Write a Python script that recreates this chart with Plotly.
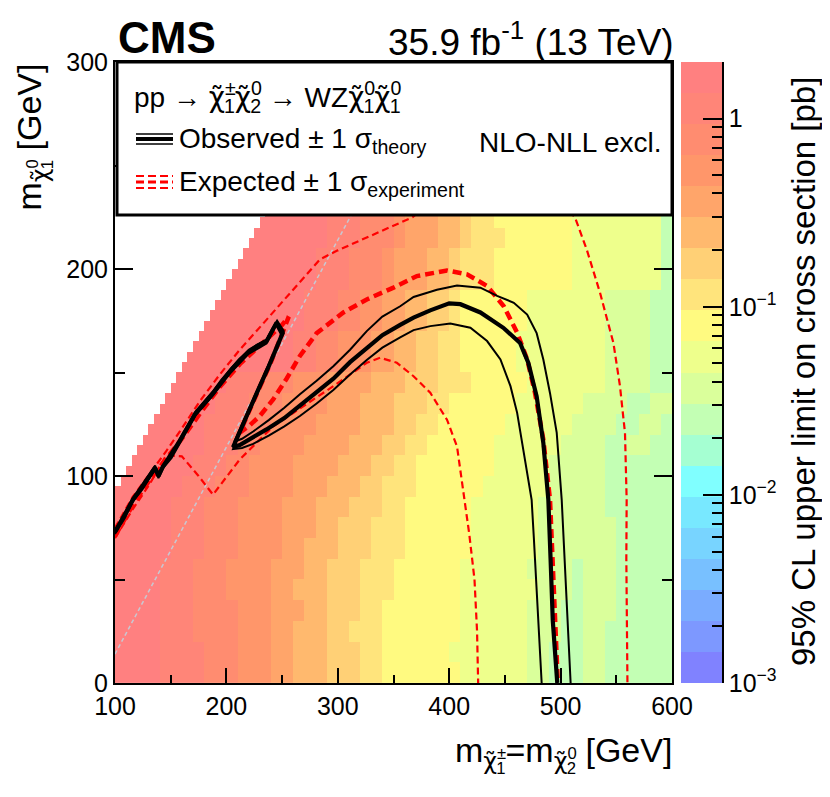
import numpy as np
import plotly.graph_objects as go

W, H = 830, 797
OFF = 8  # the page body margin shifts the figure by this many pixels
FONT = "Liberation Sans, Arial, Helvetica, DejaVu Sans, sans-serif"


def px(x):
    return (x - OFF) / W


def py(y):
    return 1 - (y - OFF) / H


# ---------------- colour palette (20 bands, highest value first) ----------------
BAND_COLORS = [
    "rgb(255,128,128)", "rgb(255,133,120)", "rgb(255,140,112)", "rgb(255,150,106)",
    "rgb(255,165,106)", "rgb(255,185,110)", "rgb(255,208,118)", "rgb(255,228,124)",
    "rgb(255,250,128)", "rgb(238,255,140)", "rgb(218,255,155)", "rgb(195,255,180)",
    "rgb(165,255,210)", "rgb(128,255,255)", "rgb(120,232,255)", "rgb(120,212,255)",
    "rgb(120,192,255)", "rgb(122,172,255)", "rgb(125,152,255)", "rgb(128,130,255)",
]
LOG_MIN = -3.0
LOG_MAX = float(np.log10(2.0))
N_BANDS = len(BAND_COLORS)
BAND_STEP = (LOG_MAX - LOG_MIN) / N_BANDS

# ---------------- cross-section limit map (colour band per 10x10 GeV cell) ----------------
X_EDGES = list(range(100, 601, 10))
Y_EDGES = list(range(0, 231, 10))
# run-length rows, bottom (y=0) to top; token "band:count", '.' = no signal point
HEAT_ROWS = [
    "0:4 1:4 2:3 3:3 4:2 5:3 6:3 7:2 8:7 9:6 a:2 b:3 a:2 b:6",
    "0:4 1:4 2:3 3:3 4:2 5:3 6:3 7:2 8:6 9:7 a:2 b:3 a:2 b:6",
    "0:4 1:3 2:4 3:3 4:2 5:3 6:2 7:3 8:7 9:6 a:3 b:2 a:2 b:6",
    "0:4 1:3 2:4 3:3 4:3 5:2 6:3 7:2 8:7 9:6 a:2 a:1 b:2 a:3 b:5",
    "0:4 1:3 2:3 3:4 4:2 5:3 6:3 7:3 8:6 9:7 a:3 b:1 a:3 b:5",
    "0:4 1:3 2:3 3:4 4:3 5:2 6:3 7:3 8:6 9:6 a:4 b:1 a:3 b:5",
    "0:5 1:3 2:3 3:4 4:2 5:3 6:3 7:3 8:6 9:6 a:4 a:3 b:5",
    "0:5 1:3 2:3 3:4 4:3 5:2 6:3 7:3 8:6 9:6 a:7 b:5",
    "0:5 1:3 2:3 3:4 4:3 5:3 6:3 7:2 8:6 9:6 a:6 b:6",
    "0:6 1:3 2:3 3:4 4:3 5:3 6:2 7:3 8:6 9:6 a:5 b:6",
    ".:1 0:6 1:3 2:2 3:4 4:4 5:3 6:2 7:2 8:7 9:5 a:5 b:6",
    ".:2 0:6 1:3 2:2 3:4 4:4 5:3 6:2 7:2 8:6 9:6 a:4 b:2 a:2 b:2",
    ".:3 0:5 1:4 2:2 3:4 4:4 5:3 6:2 7:2 8:6 9:6 a:4 b:2 a:2 b:1",
    ".:4 0:5 1:3 2:3 3:4 4:3 5:3 6:3 7:2 8:6 9:6 a:4 b:2 a:2",
    ".:5 0:5 1:3 2:3 3:3 4:4 5:3 6:3 7:3 8:5 9:7 a:4 b:2",
    ".:6 0:10 1:2 2:2 3:3 4:2 5:2 6:2 7:2 8:5 9:8 a:4 b:2",
    ".:7 0:9 1:2 2:2 3:3 4:2 5:2 6:2 7:2 8:5 9:8 a:4 b:2",
    ".:8 0:9 1:3 2:2 3:2 4:2 5:2 6:2 7:1 8:6 9:7 a:4 b:2",
    ".:9 0:8 1:3 2:2 3:2 4:2 5:2 6:2 7:1 8:6 9:7 a:4 b:2",
    ".:10 0:8 1:3 2:3 3:1 4:3 5:2 6:1 7:3 8:7 9:8 b:1",
    ".:11 0:7 1:3 2:3 3:1 4:3 5:2 6:1 7:3 8:7 9:8 b:1",
    ".:12 0:7 1:3 2:3 3:1 4:3 5:2 6:1 7:3 8:6 9:8 b:1",
    ".:13 0:6 1:3 2:3 3:1 4:3 5:2 6:1 7:2 8:7 9:8 b:1",
]
GRID_STEP = 5
EDGE_TOP = [95, 100, 105, 110, 115, 120, 125, 130, 135, 140, 145, 150, 155, 160,
            165, 170, 175, 180, 185, 190, 195, 200, 205, 210, 215, 220, 225, 230]

# ---------------- exclusion contours (GeV) ----------------
OBS_X = [100, 108, 116, 124, 131, 136, 139, 143, 150, 157, 165, 172, 180, 188, 196, 204, 212, 220, 228, 236,
         241, 245, 250.5, 246, 238, 228, 218, 210, 206, 212, 222, 236, 252, 266, 281, 296, 311, 326, 340, 356,
         368, 383, 400, 410, 428, 448.6, 463.6, 471, 478.5, 484.5, 489, 491, 493, 497]
OBS_Y = [73, 80, 88.5, 94, 100, 104, 100, 104.5, 109, 116, 124, 130, 135, 140, 146, 151, 156, 160, 163, 165,
         170, 174, 169, 163, 153, 141, 129, 119, 114, 115, 118, 122.5, 128, 134, 140, 147, 155, 162, 168, 173,
         176.5, 180, 183.4, 183, 179, 171.6, 164.3, 154.7, 138.5, 116, 88.5, 60, 30, 0]

OBS_UP_X = [100, 116, 131, 136, 139, 143, 157, 172, 188, 204, 220, 236, 241, 245.5, 251.5, 246.5, 238, 228, 218, 210,
            207, 214, 224, 238, 252, 266, 281, 296, 311, 326, 340, 356, 368, 389, 407, 428, 443, 458, 470, 478.5,
            484.5, 490.5, 496.5, 501, 503.5, 506, 509]
OBS_UP_Y = [74, 89.5, 101, 105, 101, 105.5, 117, 131, 141, 152, 161, 166, 171, 175, 170, 163.5, 154, 142, 130, 120.5,
            116.5, 118, 121.5, 127, 133, 139.5, 146, 153, 161, 170, 177, 182, 186.5, 190, 192, 191, 187, 183.7, 178, 169,
            156.3, 140, 121, 88.5, 60, 30, 0]

OBS_DN_X = [100, 116, 131, 136, 139, 143, 157, 172, 188, 204, 220, 236, 241, 244.5, 249.5, 245.5, 237, 228, 218, 210,
            206, 214, 224, 238, 252, 266, 281, 296, 311, 326, 340, 356, 368, 383, 401, 419, 434, 446, 455, 461,
            467, 474, 476, 478, 481, 483]
OBS_DN_Y = [72, 87.5, 99, 103, 99, 103.5, 115, 129, 139, 150, 159, 164, 169, 173, 168, 162.5, 152, 140, 128, 118,
            113, 113.5, 115.5, 119.5, 124, 129, 135, 141.5, 149, 156, 162, 167, 170.5, 172.4, 173.7, 171.6, 165.2, 156.3, 143.4, 130.5,
            111, 88.5, 70, 50, 25, 0]

EXP_X = [100, 116, 131, 146, 160, 176, 194, 212, 228, 242, 250, 256, 249, 240, 230, 220, 212, 220, 230, 242,
         254, 266, 281, 305, 326, 350, 371, 398, 416, 434, 449, 461, 470, 477, 484.5, 490.5, 492.5, 495, 497.5]
EXP_Y = [71, 86, 98, 108, 118, 130, 143, 154, 162, 169, 173, 177, 167, 155, 143, 131, 121, 124, 129, 137,
         147, 158, 169, 179, 185.3, 191, 196.6, 199.3, 197.4, 191.8, 182, 169.2, 156.3, 140.2, 117.6, 88.5, 60, 30, 0]

EXP_UP_X = [100, 116, 131, 146, 160, 176, 194, 212, 227, 242, 260, 272, 284, 300, 330, 367, 400, 450, 490, 513,
            523.4, 535.4, 547.4, 553.3, 557.8, 559.3, 559, 559.5, 560]
EXP_UP_Y = [75, 90, 101, 112, 123, 136, 149, 161, 170, 179, 190, 197, 204.7, 209, 216, 225, 240, 255, 240, 224.8,
            209.5, 188.5, 164.3, 143.4, 120.8, 88.5, 60, 30, 0]

EXP_DN_X = [100, 116, 131, 146, 160, 175, 188, 195, 212, 242, 270, 296, 326, 338, 353, 368, 383, 398, 407, 411,
            415, 418, 422.7, 425, 426]
EXP_DN_Y = [70, 84, 96, 110, 109.5, 100, 91, 96, 108, 124, 134, 143.4, 154.7, 157.1, 154.7, 148.2, 140.2, 127.2, 114.3, 98,
            84, 72, 50, 25, 0]

# m(chi2) - m(chi1) = m(Z) reference line
DIAG_X = [100, 330]
DIAG_Y = [14, 244]

# colour-axis ticks
CBAR_TICKVALS = [-3, -2, -1, 0]
CBAR_TICKTEXT = ["10<sup>−3</sup>", "10<sup>−2</sup>", "10<sup>−1</sup>", "1"]
CBAR_MINOR = [float(np.log10(m * 10.0 ** d)) for d in (-3, -2, -1, 0) for m in range(2, 10)
              if np.log10(m * 10.0 ** d) <= LOG_MAX + 1e-9]


def decode_row(s):
    vals = []
    for tok in s.split():
        k, n = tok.split(":")
        n = int(n)
        if k == ".":
            vals += [None] * n
        else:
            b = int(k, 36)
            vals += [LOG_MAX - (b + 0.5) * BAND_STEP] * n
    assert len(vals) == len(X_EDGES) - 1, (s, len(vals))
    return vals


Z10 = [decode_row(r) for r in HEAT_ROWS]

# draw on the 5-GeV signal grid: each 5-GeV cell shows the colour read for its 10-GeV block,
# cells above the grid's upper edge are left empty
XF = list(range(X_EDGES[0], X_EDGES[-1] + 1, GRID_STEP))
YF = list(range(Y_EDGES[0], Y_EDGES[-1] + 1, GRID_STEP))
ZF = []
for j, y0 in enumerate(YF[:-1]):
    row = []
    for i, x0 in enumerate(XF[:-1]):
        top = EDGE_TOP[i] if i < len(EDGE_TOP) else 1e9
        if y0 + GRID_STEP > top:
            row.append(None)
        else:
            row.append(Z10[(y0 - Y_EDGES[0]) // 10][(x0 - X_EDGES[0]) // 10])
    ZF.append(row)

colorscale = []
for i in range(N_BANDS):
    c = BAND_COLORS[N_BANDS - 1 - i]
    colorscale.append([i / N_BANDS, c])
    colorscale.append([(i + 1) / N_BANDS, c])

fig = go.Figure()
fig.add_trace(go.Heatmap(x=XF, y=YF, z=ZF, colorscale=colorscale, zmin=LOG_MIN, zmax=LOG_MAX,
                         showscale=False, hoverinfo="skip", xaxis="x", yaxis="y"))

fig.add_trace(go.Scatter(x=DIAG_X, y=DIAG_Y, mode="lines",
                         line=dict(color="rgb(200,200,210)", width=1.5, dash="4px,3px"),
                         showlegend=False, hoverinfo="skip"))

RED = "rgb(255,0,0)"
for xs, ys, w, d in [(EXP_UP_X, EXP_UP_Y, 2.2, "7px,4px"), (EXP_DN_X, EXP_DN_Y, 2.2, "7px,4px"),
                     (EXP_X, EXP_Y, 4.5, "9px,5px")]:
    fig.add_trace(go.Scatter(x=xs, y=ys, mode="lines", line=dict(color=RED, width=w, dash=d),
                             showlegend=False, hoverinfo="skip"))

for xs, ys, w in [(OBS_UP_X, OBS_UP_Y, 2.0), (OBS_DN_X, OBS_DN_Y, 2.0), (OBS_X, OBS_Y, 4.2)]:
    fig.add_trace(go.Scatter(x=xs, y=ys, mode="lines", line=dict(color="black", width=w),
                             showlegend=False, hoverinfo="skip"))

# colour bar drawn as its own heatmap on a log10 axis
cb_edges = [LOG_MIN + i * BAND_STEP for i in range(N_BANDS + 1)]
cb_z = [[LOG_MIN + (i + 0.5) * BAND_STEP] for i in range(N_BANDS)]
fig.add_trace(go.Heatmap(x=[0, 1], y=cb_edges, z=cb_z, colorscale=colorscale, zmin=LOG_MIN, zmax=LOG_MAX,
                         showscale=False, hoverinfo="skip", xaxis="x2", yaxis="y2"))

tickfont = dict(family=FONT, size=25, color="black")
fig.update_layout(
    width=W, height=H, margin=dict(l=0, r=0, t=0, b=0, pad=0, autoexpand=False),
    paper_bgcolor="white", plot_bgcolor="white", showlegend=False,
    xaxis=dict(domain=[px(115), px(672)], range=[100, 600], anchor="y", automargin=False,
               tickvals=[100, 200, 300, 400, 500, 600], ticks="inside", ticklen=15, tickwidth=1.5,
               tickcolor="black",
               minor=dict(tickvals=[150, 250, 350, 450, 550], ticks="inside", ticklen=8, tickwidth=1.5,
                          tickcolor="black", showgrid=False),
               showline=True, linewidth=2, linecolor="black", mirror="ticks",
               showgrid=False, zeroline=False, tickfont=tickfont),
    yaxis=dict(domain=[py(683), py(62)], range=[0, 300], anchor="x", automargin=False,
               tickvals=[0, 100, 200, 300], ticks="inside", ticklen=18, tickwidth=1.5, tickcolor="black",
               minor=dict(tickvals=[50, 150, 250], ticks="inside", ticklen=10, tickwidth=1.5,
                          tickcolor="black", showgrid=False),
               showline=True, linewidth=2, linecolor="black", mirror="ticks",
               showgrid=False, zeroline=False, tickfont=tickfont),
    xaxis2=dict(domain=[px(681), px(722)], range=[0, 1], anchor="y2", visible=False, automargin=False),
    yaxis2=dict(domain=[py(683), py(62)], range=[LOG_MIN, LOG_MAX], anchor="x2", side="right",
                automargin=False,
                tickvals=CBAR_TICKVALS, ticktext=CBAR_TICKTEXT, ticks="inside", ticklen=19, tickwidth=1.5,
                tickcolor="black",
                minor=dict(tickvals=CBAR_MINOR, ticks="inside", ticklen=10, tickwidth=1.5,
                           tickcolor="black", showgrid=False),
                showline=True, linewidth=1.5, linecolor="black",
                showgrid=False, zeroline=False, tickfont=tickfont),
)

CHI = '<span style="font-family:DejaVu Sans">\u03c7\u0303</span>'


def chi(sup, sub):
    # superscript stacked over subscript (negative spacing pulls the subscript back)
    return (CHI + "<sup><span style='letter-spacing:-0.6em'>" + sup + "</span></sup>"
            + "<sub>" + sub + "</sub>")


ann = []


def add_text(text, x, y, size, xanchor="left", yanchor="middle", angle=0):
    ann.append(dict(text=text, x=px(x), y=py(y), xref="paper", yref="paper", showarrow=False,
                    xanchor=xanchor, yanchor=yanchor, textangle=angle,
                    font=dict(family=FONT, size=size, color="black")))


add_text("<b>CMS</b>", 116, 38, 44)
add_text("35.9 fb<sup>-1</sup> (13 TeV)", 676, 40, 37, xanchor="right")
add_text("m<sub>" + chi("0", "1") + "</sub> [GeV]", 33, 62, 34, xanchor="center",
         yanchor="top", angle=-90)
add_text("m<sub>" + chi("±", "1") + "</sub>=m<sub>" + chi("0", "2") + "</sub> [GeV]",
         674, 754, 34, xanchor="right")
add_text("95% CL upper limit on cross section [pb]", 803, 372, 33, xanchor="center", angle=-90)
add_text("pp → " + chi("±", "1") + chi("0", "2") + " → WZ" + chi("0", "1") + chi("0", "1"), 132, 99, 28)
add_text("Observed ± 1 σ<sub>theory</sub>", 177, 141, 28)
add_text("Expected ± 1 σ<sub>experiment</sub>", 177, 183, 28)
add_text("NLO-NLL excl.", 664, 142, 28, xanchor="right")

shapes = [dict(type="rect", xref="paper", yref="paper", x0=px(117), x1=px(672), y0=py(215), y1=py(62),
               fillcolor="white", line=dict(color="black", width=3), layer="above")]
for yy, w in [(134, 1.5), (139, 4), (144, 1.5)]:
    shapes.append(dict(type="line", xref="paper", yref="paper", x0=px(136), x1=px(173), y0=py(yy), y1=py(yy),
                       line=dict(color="black", width=w), layer="above"))
for yy, w in [(176, 2.2), (182, 3.2), (188, 2.2)]:
    shapes.append(dict(type="line", xref="paper", yref="paper", x0=px(136), x1=px(173), y0=py(yy), y1=py(yy),
                       line=dict(color=RED, width=w, dash="8px,4px"), layer="above"))

fig.update_layout(annotations=ann, shapes=shapes)
fig.write_html("out.html")
